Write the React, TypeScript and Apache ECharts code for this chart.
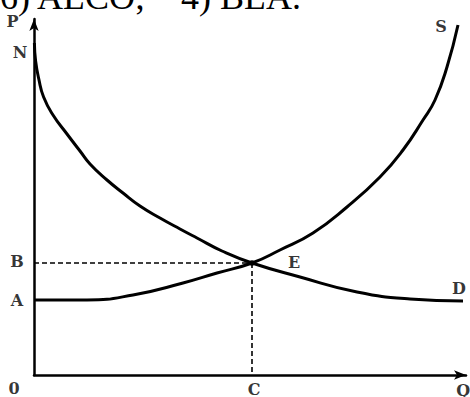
import React, { useEffect, useRef } from "react";
import * as echarts from "echarts";

// Supply curve S (quantity, price)
const supplyQ = [0.25, 13.25, 24.75, 37.25, 45.75, 54.5, 61.5, 69.75, 78.25, 86.5, 92.25, 97.25, 100.25, 103.25, 106];
const supplyP = [18.75, 18.75, 20, 23, 25.5, 28, 31.25, 35.5, 42, 49.5, 56.25, 63.75, 68.75, 77, 87.5];

// Demand curve D (quantity, price)
const demandQ = [0.1, 0.4, 1.2, 2.4, 4.75, 8.25, 11.5, 14, 18.25, 22.25, 26.5, 31.5, 36.5, 40.75, 47, 54.5, 66.5, 80.75, 94, 107.25];
const demandP = [83, 78.5, 74, 69.5, 65, 60.25, 56, 52.75, 48.75, 45.5, 42.25, 39.25, 36.5, 34.25, 31, 28, 24.5, 20.75, 19, 18.5];

// Equilibrium
const eqQ = 54.5; // C
const eqP = 28; // B
const priceA = 18.75;

// Axis extents
const xMax = 108;
const yMax = 89;

// Labels: [text, x, y]
const labelTexts = ["P", "N", "B", "A", "0", "C", "E", "S", "D", "Q"];
const labelX = [-5.4, -3.5, -4.25, -4.25, -5, eqQ + 0.5, 65, 101.75, 106.25, 107.3];
const labelY = [88.4, 80.75, eqP + 0.5, priceA, -3.25, -3.5, 28.25, 87.25, 21.75, -3.9];

const titleText = "6) ALCO;    4) BLA.";

export default function App() {
  const ref = useRef<HTMLDivElement>(null);
  useEffect(() => {
    document.body.style.margin = "0";
    const chart = echarts.init(ref.current!, undefined, { renderer: "svg" });
    const black = "#000";
    chart.setOption({
      animation: false,
      backgroundColor: "#fff",
      grid: { left: 34, right: 4, top: 19, bottom: 22 },
      xAxis: {
        type: "value",
        min: 0,
        max: xMax,
        axisLine: { show: true, onZero: false, symbol: ["none", "arrow"], symbolSize: [7, 12], lineStyle: { color: black, width: 2.5 } },
        axisTick: { show: false },
        axisLabel: { show: false },
        splitLine: { show: false },
      },
      yAxis: {
        type: "value",
        min: 0,
        max: yMax,
        axisLine: { show: true, onZero: false, symbol: ["none", "arrow"], symbolSize: [7, 12], lineStyle: { color: black, width: 2.5 } },
        axisTick: { show: false },
        axisLabel: { show: false },
        splitLine: { show: false },
      },
      graphic: [
        {
          type: "text",
          left: 0,
          top: -21,
          style: {
            text: titleText,
            font: "36px 'Liberation Serif', serif",
            lineHeight: 24,
            fill: black,
          },
        },
      ],
      series: [
        {
          type: "line",
          name: "S",
          data: supplyQ.map((q, i) => [q, supplyP[i]]),
          smooth: 0.5,
          symbol: "none",
          lineStyle: { color: black, width: 3 },
          clip: false,
        },
        {
          type: "line",
          name: "D",
          data: demandQ.map((q, i) => [q, demandP[i]]),
          smooth: 0.5,
          symbol: "none",
          lineStyle: { color: black, width: 3 },
          clip: false,
        },
        {
          type: "line",
          data: [[0, eqP], [eqQ, eqP]],
          symbol: "none",
          lineStyle: { color: black, width: 1.6, type: [5, 3] },
        },
        {
          type: "line",
          data: [[eqQ, eqP], [eqQ, 0]],
          symbol: "none",
          lineStyle: { color: black, width: 1.6, type: [5, 3] },
        },
        {
          type: "scatter",
          data: [[eqQ, eqP]],
          symbolSize: 6,
          itemStyle: { color: black },
          z: 5,
        },
        {
          type: "scatter",
          clip: false,
          symbolSize: 1,
          itemStyle: { color: "rgba(0,0,0,0)" },
          data: labelTexts.map((t, i) => ({ name: t, value: [labelX[i], labelY[i]] })),
          label: {
            show: true,
            position: "inside",
            formatter: (p: any) => p.name,
            color: black,
            fontFamily: "'DejaVu Serif', serif",
            fontWeight: "bold",
            fontSize: 16,
          },
          z: 6,
        },
      ],
    });
    return () => chart.dispose();
  }, []);
  return <div ref={ref} style={{ width: 470, height: 397 }} />;
}
